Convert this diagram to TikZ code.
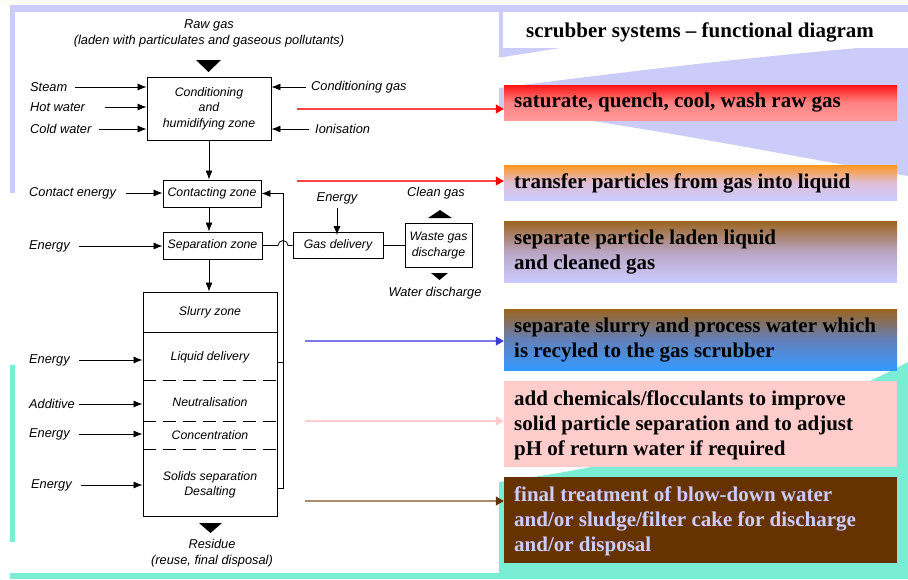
\documentclass[tikz,border=0pt]{standalone}
\usepackage{fontspec}
\setmainfont{Liberation Serif}
\newfontfamily\diagfont{Liberation Sans}
\usetikzlibrary{arrows.meta}
\definecolor{lav}{RGB}{204,204,250}
\definecolor{aqua}{RGB}{122,238,212}
\definecolor{cream}{RGB}{252,252,246}
\definecolor{redtop}{RGB}{255,20,20}
\definecolor{redmid}{RGB}{255,130,130}
\definecolor{redbot}{RGB}{255,153,153}
\definecolor{orgtop}{RGB}{255,150,30}
\definecolor{orgmid}{RGB}{222,190,215}
\definecolor{lavbox}{RGB}{204,204,255}
\definecolor{browntop}{RGB}{155,100,30}
\definecolor{mauvemid}{RGB}{185,165,195}
\definecolor{bluemid}{RGB}{100,128,185}
\definecolor{bluebot}{RGB}{51,153,255}
\definecolor{pinkbox}{RGB}{255,204,204}
\definecolor{darkbrown}{RGB}{102,51,0}
\definecolor{redline}{RGB}{255,70,70}
\definecolor{blueline}{RGB}{120,120,230}
\definecolor{bluehead}{RGB}{60,60,210}
\definecolor{brownline}{RGB}{170,140,110}
\begin{document}
\begin{tikzpicture}[x=1pt,y=-1pt,
  lbl/.style={font=\diagfont\itshape\fontsize{12.8}{16}\selectfont, inner sep=1pt, align=center},
  ztext/.style={font=\diagfont\itshape\fontsize{12.3}{15}\selectfont, inner sep=0pt, align=center},
  zbox/.style={draw, line width=0.9pt, font=\diagfont\itshape\fontsize{12.3}{15.5}\selectfont, align=center, inner sep=0pt},
  arr/.style={line width=0.8pt, -{Latex[length=9pt,width=7pt]}},
  conn/.style={line width=0.8pt},
  dsh/.style={line width=0.9pt, dash pattern=on 13pt off 7pt},
  rbox/.style={minimum width=393pt, inner sep=0pt, draw=none},
  rtext/.style={font=\bfseries\fontsize{21}{25}\selectfont, align=left, anchor=west, inner sep=0pt},
  carr/.style={line width=1.2pt, -{Triangle[length=8pt,width=9pt]}}
]
\useasboundingbox (0,0) rectangle (908,579);
% ---------- background ----------
\fill[white] (0,0) rectangle (908,579);
\fill[cream] (0,0) rectangle (908,5);
\fill[lav] (10,5) rectangle (908,12);
\fill[lav] (10,12) rectangle (15,193);
\fill[aqua] (10,365) rectangle (15,542);
\fill[aqua] (10,573) rectangle (908,579);
\fill[lav] (497,12) rectangle (503,48);
\fill[lav] (497,48) -- (560,48) -- (497,58) -- cycle;
\fill[lav] (499,88) .. controls (600,75) and (760,55) .. (908,44) -- (908,176)
  .. controls (800,158) and (640,125) .. (499,108) -- cycle;
\fill[aqua] (499,482) .. controls (650,462) and (800,420) .. (908,362) -- (908,579) -- (499,579) -- cycle;
\fill[white] (15,12) rectangle (499,573);
\fill[white] (503,12) rectangle (908,48);

% ---------- title ----------
\node[font=\bfseries\fontsize{21}{25}\selectfont, inner sep=0pt] (title) at (700,32) {scrubber systems – functional diagram};

% ---------- diagram boxes ----------
\node[lbl] (raw) at (209,33) {Raw gas\\(laden with particulates and gaseous pollutants)};
\fill (196,60) -- (221,60) -- (208.5,72) -- cycle;

\node[zbox, minimum width=124pt, minimum height=63pt] (box1) at (209,108.5) {Conditioning\\and\\humidifying zone};
\node[zbox, minimum width=98pt, minimum height=27pt] (contact) at (212,193.5) {Contacting zone};
\node[zbox, minimum width=99pt, minimum height=27pt] (sep) at (212.5,245.5) {Separation zone};
\node[zbox, minimum width=134pt, minimum height=224pt] (big) at (210,404) {};
\node[zbox, minimum width=90pt, minimum height=26pt] (gasdel) at (338,245.5) {Gas delivery};
\node[zbox, minimum width=67pt, minimum height=44pt] (waste) at (438.5,245.5) {Waste gas\\discharge};

\node[ztext] (slurry) at (210,312) {Slurry zone};
\node[ztext] (liquid) at (210,357) {Liquid delivery};
\node[ztext] (neutral) at (210,402) {Neutralisation};
\node[ztext] (conc) at (210,435) {Concentration};
\node[ztext] (solids) at (210,484.5) {Solids separation\\Desalting};

\draw[conn] (big.west |- 0,332) -- (big.east |- 0,332);
\draw[dsh] (big.west |- 0,380) -- (big.east |- 0,380);
\draw[dsh] (big.west |- 0,421) -- (big.east |- 0,421);
\draw[dsh] (big.west |- 0,449) -- (big.east |- 0,449);

% main flow
\draw[arr] (box1.south) -- (box1.south |- contact.north);
\draw[arr] (box1.south |- contact.south) -- (box1.south |- sep.north);
\draw[arr] (box1.south |- sep.south) -- (box1.south |- big.north);
% return line
\draw[arr] (big.east |- 0,488) -| (283,193.5) -- (contact.east);
\draw[conn] (big.east |- 0,362) -- (283,362);
% gas path
\draw[conn] (sep.east) -- (278,245.5) arc[start angle=180,end angle=360,radius=5] -- (gasdel.west);
\draw[conn] (gasdel.east) -- (waste.west);
\node[lbl] (egas) at (337,198) {Energy};
\draw[arr] ([yshift=-3pt]egas.south) -- ([yshift=-3pt]egas.south |- gasdel.north);
\node[lbl] (clean) at (436,193) {Clean gas};
\fill (428,218) -- (452,218) -- (440,210) -- cycle;
\fill (431,273) -- (448,273) -- (439.5,280) -- cycle;
\node[lbl] (water) at (435,293) {Water discharge};

% residue
\fill (199,523) -- (222,523) -- (210.5,533) -- cycle;
\node[lbl] (residue) at (212,553) {Residue\\(reuse, final disposal)};

% inputs left
\node[lbl, anchor=west] (steam) at (29,87) {Steam};
\draw[arr] ([xshift=7pt]steam.east) -- (steam.east -| box1.west);
\node[lbl, anchor=west] (hot) at (29,107) {Hot water};
\draw[arr] ([xshift=19pt]hot.east) -- (hot.east -| box1.west);
\node[lbl, anchor=west] (cold) at (29,129) {Cold water};
\draw[arr] ([xshift=6pt]cold.east) -- (cold.east -| box1.west);
\node[lbl, anchor=west] (cgas) at (310,87) {Conditioning gas};
\draw[arr] ([xshift=-4pt]cgas.west) -- (cgas.west -| box1.east);
\node[lbl, anchor=west] (ion) at (314,129) {Ionisation};
\draw[arr] ([xshift=-5pt]ion.west) -- (ion.west -| box1.east);

\node[lbl, anchor=west] (cen) at (28,193) {Contact energy};
\draw[arr] ([xshift=9pt]cen.east) -- (cen.east -| contact.west);
\node[lbl, anchor=west] (esep) at (28,246) {Energy};
\draw[arr] ([xshift=8pt]esep.east) -- (esep.east -| sep.west);
\node[lbl, anchor=west] (eliq) at (28,360) {Energy};
\draw[arr] ([xshift=8pt]eliq.east) -- (eliq.east -| big.west);
\node[lbl, anchor=west] (add) at (28,404) {Additive};
\draw[arr] ([xshift=3pt]add.east) -- (add.east -| big.west);
\node[lbl, anchor=west] (econc) at (28,434) {Energy};
\draw[arr] ([xshift=8pt]econc.east) -- (econc.east -| big.west);
\node[lbl, anchor=west] (esol) at (30,485) {Energy};
\draw[arr] ([xshift=8pt]esol.east) -- (esol.east -| big.west);

% ---------- right boxes ----------
\node[rbox, minimum height=35pt, top color=redtop, bottom color=redbot, middle color=redmid] (r1) at (700.5,102.5) {};
\node[rtext] (t1) at (514,103) {saturate, quench, cool, wash raw gas};
\node[rbox, minimum height=35pt, top color=orgtop, bottom color=lavbox, middle color=orgmid] (r2) at (700.5,182.5) {};
\node[rtext] (t2) at (514,183) {transfer particles from gas into liquid};
\node[rbox, minimum height=61pt, top color=browntop, bottom color=lavbox, middle color=mauvemid] (r3) at (700.5,251.5) {};
\node[rtext] (t3) at (514,252) {separate particle laden liquid\\and cleaned gas};
\node[rbox, minimum height=61pt, top color=browntop, bottom color=bluebot, middle color=bluemid] (r4) at (700.5,339.5) {};
\node[rtext] (t4) at (514,340) {separate slurry and process water which\\is recyled to the gas scrubber};
\node[rbox, minimum height=86pt, fill=pinkbox] (r5) at (700.5,424) {};
\node[rtext] (t5) at (514,425) {add chemicals/flocculants to improve\\solid particle separation and to adjust\\pH of return water if required};
\node[rbox, minimum height=86pt, fill=darkbrown] (r6) at (700.5,520) {};
\node[rtext, text=lavbox] (t6) at (514,521) {final treatment of blow-down water\\and/or sludge/filter cake for discharge\\and/or disposal};

% ---------- coloured arrows ----------
\coordinate (ca1) at (297,109);
\coordinate (ca2) at (297,181);
\coordinate (ca3) at (305,341);
\coordinate (ca4) at (305,421);
\coordinate (ca5) at (305,501);
\draw[carr, draw=redline, -{Triangle[length=8pt,width=9pt,fill=red,color=red]}] (ca1) -- (ca1 -| r1.west);
\draw[carr, draw=redline, -{Triangle[length=8pt,width=9pt,fill=red,color=red]}] (ca2) -- (ca2 -| r2.west);
\draw[carr, draw=blueline, -{Triangle[length=8pt,width=9pt,fill=bluehead,color=bluehead]}] (ca3) -- (ca3 -| r4.west);
\draw[carr, draw=pinkbox, -{Triangle[length=8pt,width=9pt,fill=pinkbox,color=pinkbox]}] (ca4) -- (ca4 -| r5.west);
\draw[carr, draw=brownline, -{Triangle[length=8pt,width=9pt,fill=darkbrown,color=darkbrown]}] (ca5) -- (ca5 -| r6.west);
\end{tikzpicture}
\end{document}
